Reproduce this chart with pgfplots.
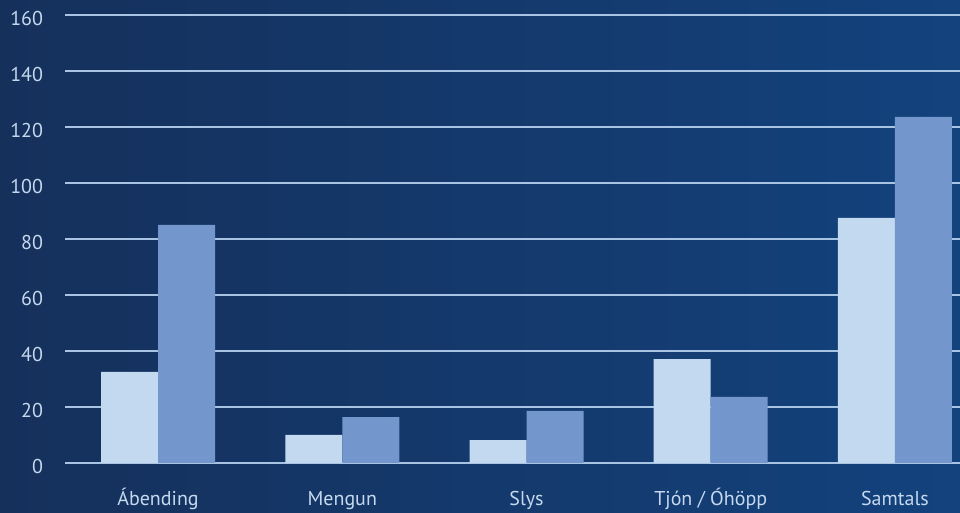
\documentclass[border=0pt]{standalone}
\usepackage{fontspec}
\setmainfont{PT Sans}
\usepackage{pgfplots}
\pgfplotsset{compat=1.18}
\definecolor{bgleft}{HTML}{15305B}
\definecolor{bgright}{HTML}{13427D}
\definecolor{gridc}{HTML}{A9C4E2}
\definecolor{labc}{HTML}{C5D8EE}
\definecolor{barlight}{HTML}{C3D9F0}
\definecolor{bardark}{HTML}{7397CD}
\begin{document}
\begin{tikzpicture}
% background, 960x513 px at 0.75pt per px
\shade[left color=bgleft, right color=bgright] (0,0) rectangle (720pt,384.75pt);
\useasboundingbox (0,0) rectangle (720pt,384.75pt);
\begin{axis}[
    at={(48.75pt,37.5pt)}, anchor=south west,
    scale only axis,
    width=671.25pt, height=336pt,
    xmin=-0.505, xmax=4.353,
    ymin=0, ymax=160,
    ytick={0,20,...,160},
    xtick={0,1,2,3,4},
    xticklabels={Ábending, Mengun, Slys, Tjón / Óhöpp, Samtals},
    axis line style={draw=none},
    major tick length=0pt,
    ymajorgrids,
    grid style={draw=gridc, line width=1.1pt},
    ybar=0pt, bar width=42.75pt,
    clip=false,
    /pgf/number format/assume math mode=true,
    tick label style={font=\fontsize{15pt}{18pt}\selectfont, text=labc},
    yticklabel style={anchor=east, xshift=-13pt, yshift=-3pt},
    xticklabel style={anchor=base, yshift=-32pt},
]
\addplot[fill=barlight, draw=none] coordinates {
    (0, 32.5) (1, 10.0) (2, 8.2) (3, 37.1) (4, 87.5)
};
\addplot[fill=bardark, draw=none] coordinates {
    (0, 85.0) (1, 16.4) (2, 18.6) (3, 23.6) (4, 123.6)
};
\end{axis}
\end{tikzpicture}
\end{document}
